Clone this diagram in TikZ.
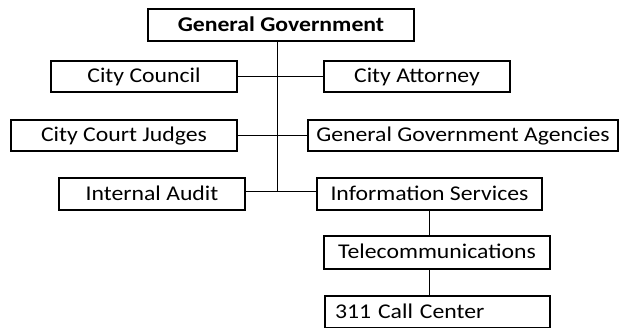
\documentclass[tikz,border=0pt]{standalone}
\usepackage{fontspec}
\setmainfont{Carlito}[FakeStretch=1.13]
\begin{document}
\begin{tikzpicture}[x=1pt,y=-1pt,
  box/.style={draw=black,line width=1.1pt,minimum height=31pt,inner sep=0pt,
    text height=17pt,text depth=4.5pt,font=\fontsize{21}{25}\selectfont},
  conn/.style={draw=black,line width=1pt}]
\useasboundingbox (0,0) rectangle (619,327);
\clip (0,0) rectangle (619,327);
\node[box,minimum width=266pt,minimum height=32pt,font=\fontsize{21}{25}\selectfont\bfseries] (gg) at (281,25) {General Government};
\node[box,minimum width=186pt] (cc) at (144,76.5) {City Council};
\node[box,minimum width=186pt] (ca) at (417,76.5) {City Attorney};
\node[box,minimum width=226pt] (cj) at (124,135.5) {City Court Judges};
\node[box,minimum width=310pt] (gga) at (463,135.5) {General Government Agencies};
\node[box,minimum width=186pt,minimum height=32pt] (ia) at (152,194) {Internal Audit};
\node[box,minimum width=225pt,minimum height=32pt] (is) at (429.5,194) {Information Services};
\node[box,minimum width=226pt,minimum height=33pt] (tc) at (437,252.5) {Telecommunications};
\node[box,minimum width=225pt,minimum height=32pt,text width=205pt,inner xsep=10pt,align=left] (cl) at (437.5,312) {311 Call Center};
\coordinate (t) at (277,191);
\draw[conn] (gg.south -| t) -- (t);
\draw[conn] (cc.east) -- (ca.west);
\draw[conn] (cj.east) -- (gga.west);
\draw[conn] (ia.east |- t) -- (is.west |- t);
\draw[conn] (is.south) -- (tc.north -| is.south);
\draw[conn] (tc.south -| is.south) -- (cl.north -| is.south);
\end{tikzpicture}
\end{document}
